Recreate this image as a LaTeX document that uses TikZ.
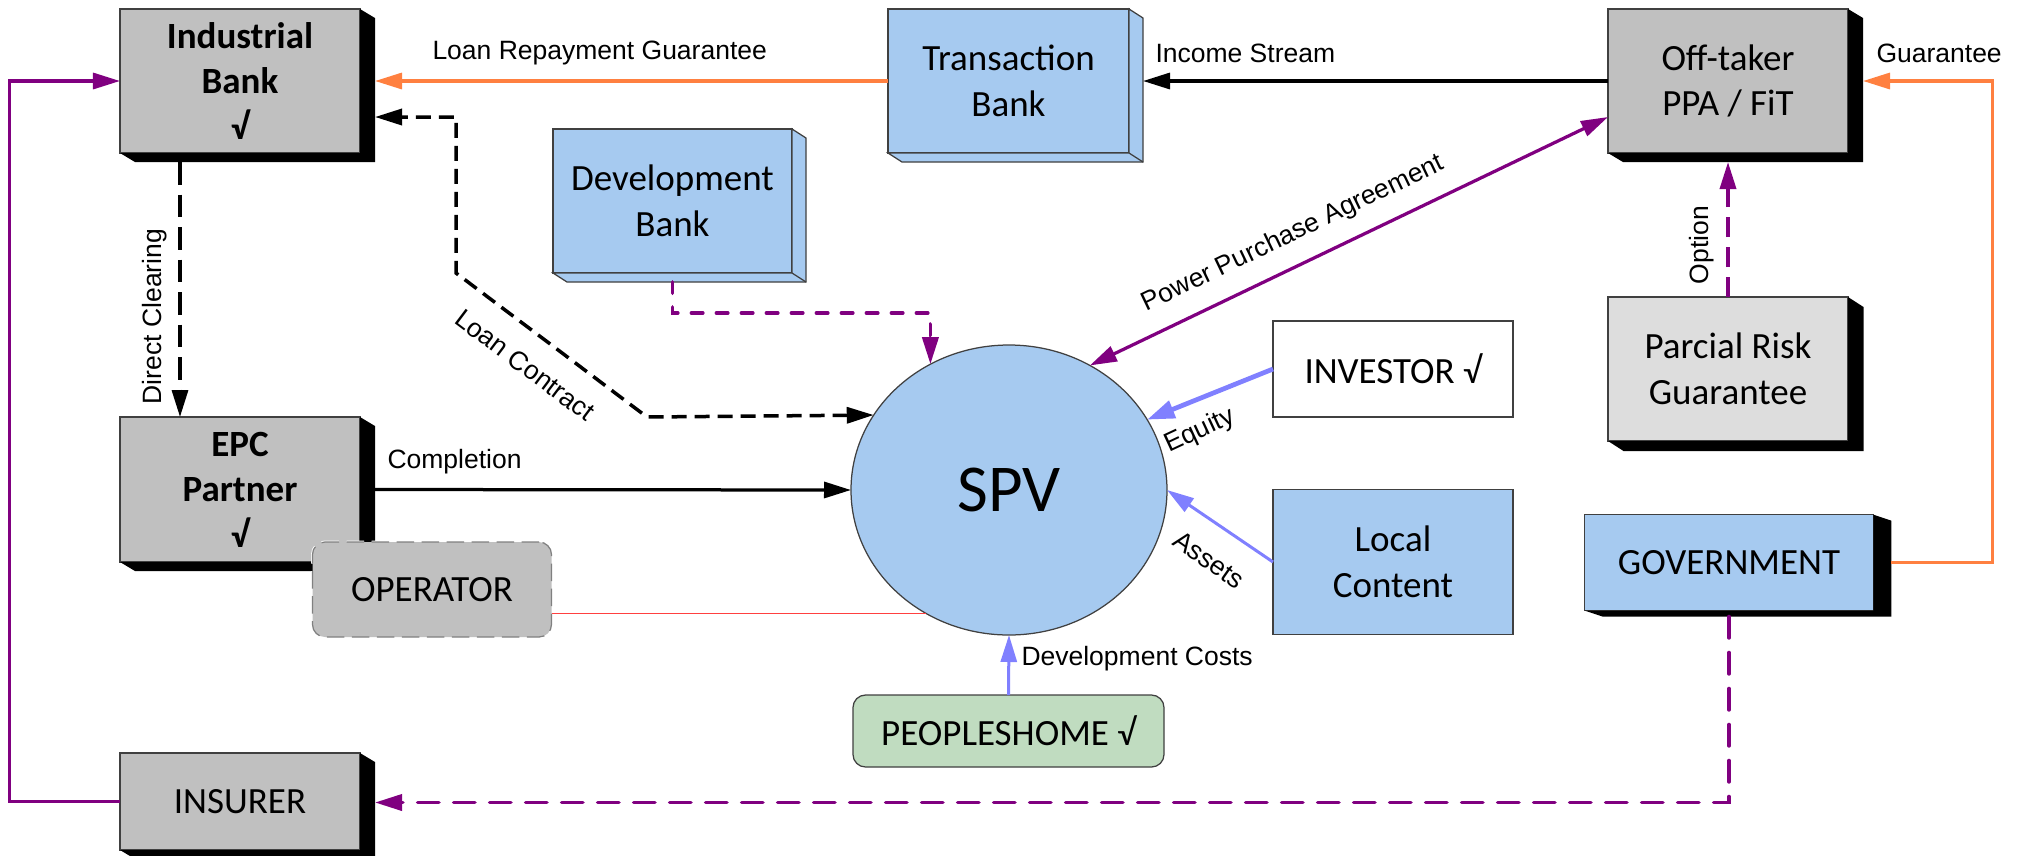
\documentclass[tikz,border=0pt]{standalone}
\usepackage{fontspec}
\setmainfont{Carlito}
\newfontfamily\labfont{Liberation Sans}
\usetikzlibrary{arrows.meta,calc,shapes.geometric}
\definecolor{boxgray}{HTML}{C0C0C0}
\definecolor{boxblue}{HTML}{A6CAF0}
\definecolor{prgray}{HTML}{DDDDDD}
\definecolor{boxgreen}{HTML}{C0DCC0}
\definecolor{orangec}{HTML}{FF8040}
\definecolor{purplec}{HTML}{800080}
\definecolor{peri}{HTML}{8080FF}
\definecolor{edgec}{HTML}{404040}
\newcommand\blkshadow[3]{\fill[black] (#1.north east) -- ++(#2,#3) -- ($(#1.south east)+(#2,#3)$) -- ($(#1.south west)+(#2,#3)$) -- (#1.south west) -- (#1.south east) -- cycle;}
\newcommand\blueside[3]{\filldraw[fill=boxblue, draw=edgec, line width=0.5pt] (#1.north east) -- ++(#2,#3) -- ($(#1.south east)+(#2,#3)$) -- ($(#1.south west)+(#2,#3)$) -- (#1.south west) -- (#1.south east) -- cycle; \draw[edgec, line width=0.5pt] (#1.south east) -- ++(#2,#3);}
\begin{document}
\begin{tikzpicture}[x=0.4pt,y=-0.4pt,
  box/.style={rectangle, draw=edgec, line width=0.5pt, inner sep=0pt, outer sep=0pt, align=center, font=\fontsize{14.8}{18.2}\selectfont},
  lab/.style={font=\labfont\fontsize{10.6}{12}\selectfont, inner sep=0pt},
  tipa/.style={-{Triangle[length=10.8pt,width=6.4pt]}},
  tipb/.style={{Triangle[length=10.8pt,width=6.4pt]}-{Triangle[length=10.8pt,width=6.4pt]}},
  tipc/.style={-{Triangle[length=11pt,width=7.2pt]}},
  conn/.style={line width=1.3pt},
  loandash/.style={line width=1.4pt, dash pattern=on 6pt off 3.2pt},
  cleardash/.style={line width=1.3pt, dash pattern=on 9pt off 4pt},
  devdash/.style={line width=1.5pt, line cap=round, dash pattern=on 4.5pt off 5.5pt},
  botdash/.style={line width=1.5pt, line cap=round, dash pattern=on 8.5pt off 5.9pt},
  optdash/.style={line width=1.4pt, dash pattern=on 8pt off 4pt}
]
\useasboundingbox (0,0) rectangle (2022,855);

% nodes
\node[box, fill=boxgray, minimum width=96pt, minimum height=57.6pt, font=\bfseries\fontsize{14.8}{18.2}\selectfont] (ib) at (240,81) {Industrial\\Bank\\√};
\node[box, fill=boxgray, minimum width=96pt, minimum height=58pt, font=\bfseries\fontsize{14.8}{18.2}\selectfont] (epc) at (240,489.5) {EPC\\Partner\\√};
\node[box, fill=boxgray, minimum width=96pt, minimum height=38.8pt] (ins) at (240,801.5) {INSURER};
\node[box, fill=boxblue, minimum width=96.4pt, minimum height=57.6pt] (trans) at (1008.5,81) {Transaction\\Bank};
\node[box, fill=boxblue, minimum width=95.6pt, minimum height=57.6pt] (dev) at (672.5,201) {Development\\Bank};
\node[box, fill=boxgray, minimum width=96pt, minimum height=57.6pt] (off) at (1728,81) {Off-taker\\PPA / FiT};
\node[box, fill=prgray, minimum width=96pt, minimum height=57.6pt] (pr) at (1728,369) {Parcial Risk\\Guarantee};
\node[box, fill=boxblue, minimum width=115.4pt, minimum height=38.4pt] (gov) at (1729,562.6) {GOVERNMENT};
\node[box, fill=white, minimum width=96pt, minimum height=38.4pt] (inv) at (1393,369) {INVESTOR √};
\node[box, fill=boxblue, minimum width=96pt, minimum height=57.8pt] (loc) at (1393,562) {Local\\Content};
\node[box, fill=boxgreen, rounded corners=5pt, minimum width=124.4pt, minimum height=28.8pt] (ppl) at (1008.5,731) {PEOPLESHOME √};
\node[box, ellipse, fill=boxblue, minimum width=126.4pt, minimum height=116pt, font=\fontsize{26.8}{30}\selectfont] (spv) at (1009,490) {SPV};

% shadows / 3D sides
\blkshadow{ib}{15}{9}
\blkshadow{epc}{15}{9}
\blkshadow{ins}{15}{9}
\blkshadow{off}{15}{9}
\blkshadow{pr}{15.5}{10}
\blkshadow{gov}{18}{6}
\blueside{trans}{14}{9}
\blueside{dev}{14}{9}

% operator (drawn after EPC shadow, overlaps it)
\node[box, fill=boxgray, rounded corners=5pt, minimum width=95.6pt, minimum height=38pt, draw=gray, dash pattern=on 7pt off 3pt, preaction={draw=white, line width=1.2pt}] (op) at (432,589.5) {OPERATOR};

% connectors
\draw[conn, orangec, tipa] (trans.west) -- ($(ib.east)+(15,0)$);
\draw[conn, black, tipa] (off.west) -- ($(trans.east)+(14,0)$);
\draw[conn, orangec, tipa] ($(gov.east)+(18,0)$) -- ++(101,0) |- ($(off.east)+(15,0)$);
\draw[purplec, tipa, optdash] (pr.north) -- ($(off.south)+(0,9)$);
\draw[conn, purplec, tipb] (spv.57.7) -- ($(off.west)+(0,36)$);
\draw[black, tipb, loandash] (spv.151.8) -- (647,417) -- (456,273) -- (456,117) -- ($(ib.east)+(15,36)$);
\draw[black, tipa, cleardash] ($(ib.south)+(-60,9)$) -- ($(epc.north)+(-60,0)$);
\draw[purplec, tipa, devdash] ($(dev.south)+(0,9)$) -- ++(0,31) -| (spv.122.6);
\draw[conn, black, tipa] ($(epc.east)+(15,0)$) -- (spv.west);
\draw[line width=0.5pt, red!75] (spv.236.5) -- (spv.236.5 -| op.east);
\draw[line width=1.9pt, peri, tipc] (inv.west) -- (spv.27.9);
\draw[line width=1.2pt, peri, tipa] (loc.west) -- (spv.east);
\draw[line width=1.2pt, peri, tipa] (ppl.north) -- (spv.south);
\draw[conn, purplec, tipa] (ins.west) -- ++(-110.5,0) |- (ib.west);
\draw[purplec, tipa, botdash] ($(gov.south)+(0,6)$) |- ($(ins.east)+(15,1)$);

% labels
\node[lab, anchor=west] (l1) at (432,53) {Loan Repayment Guarantee};
\node[lab, anchor=west] (l2) at (1155,53) {Income Stream};
\node[lab, anchor=west] (l3) at (1876,53) {Guarantee};
\node[lab, rotate=90] (l4) at (155,316.5) {Direct Clearing};
\node[lab, rotate=-37] (l5) at (525,365) {Loan Contract};
\node[lab, rotate=25.6] (l6) at (1293,234) {Power Purchase Agreement};
\node[lab, rotate=25] (l7) at (1200,431) {Equity};
\node[lab, rotate=-35] (l8) at (1209,560) {Assets};
\node[lab, rotate=90] (l9) at (1702,245) {Option};
\node[lab, anchor=west] (l10) at (387,462) {Completion};
\node[lab, anchor=west] (l11) at (1021,659) {Development Costs};
\end{tikzpicture}
\end{document}
